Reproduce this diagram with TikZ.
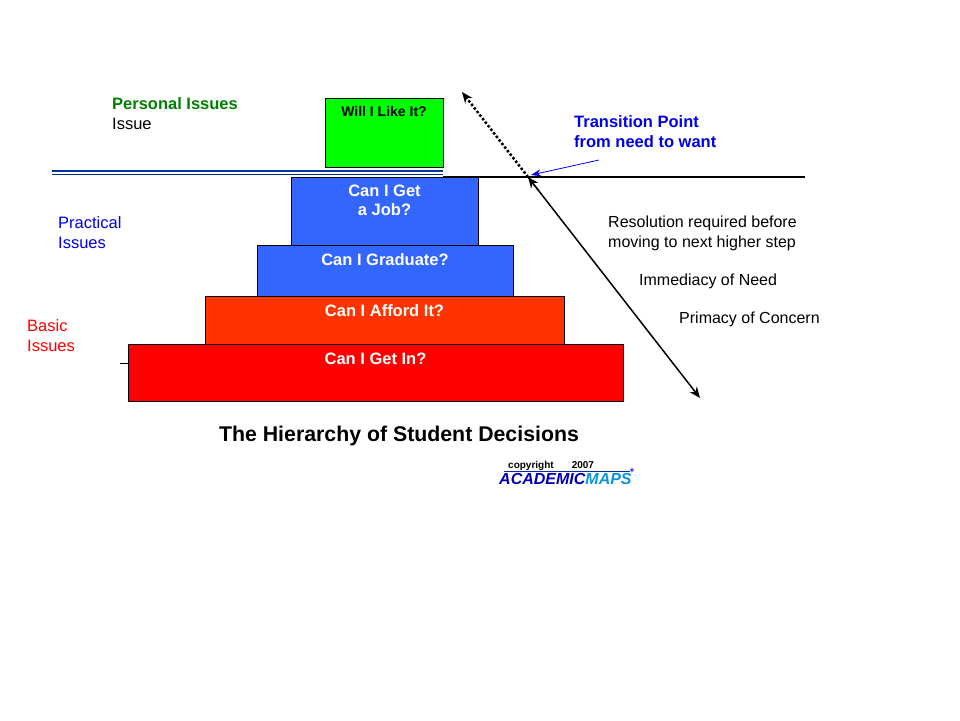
\documentclass[tikz,border=0pt]{standalone}
\usepackage{fontspec}
\setmainfont{Liberation Sans}
\usetikzlibrary{arrows.meta,calc}
\definecolor{pblue}{RGB}{51,102,255}
\definecolor{porange}{RGB}{255,51,0}
\definecolor{pgreen}{RGB}{0,128,0}
\definecolor{tblue}{RGB}{0,0,230}
\definecolor{lblue}{RGB}{0,51,153}
\begin{document}
\begin{tikzpicture}[x=1pt,y=-1pt,
  lbl/.style={font=\bfseries\fontsize{16.5}{19}\selectfont,text=white,align=center},
  side/.style={font=\fontsize{16.5}{20}\selectfont,align=left,anchor=north west,inner sep=0pt}]
\useasboundingbox (0,0) rectangle (960,720);
\fill[white] (0,0) rectangle (960,720);
% steps
\filldraw[fill=red] (128,344) rectangle (623,401);
\filldraw[fill=porange] (205,296) rectangle (564,344);
\filldraw[fill=pblue] (257,245) rectangle (513,296);
\filldraw[fill=pblue] (291,177) rectangle (478,245);
\filldraw[fill=green] (325,98) rectangle (443,167);
\node[lbl] (s1) at (375.5,359) {Can I Get In?};
\node[lbl] (s2) at (384.5,311) {Can I Afford It?};
\node[lbl] (s3) at (385,260) {Can I Graduate?};
\node[lbl,font=\bfseries\fontsize{16.5}{19}\selectfont] (s4) at (384.5,200) {Can I Get\\a Job?};
\node[font=\bfseries\fontsize{14}{16}\selectfont] (s5) at (384,111) {Will I Like It?};
\draw (120,363) -- (128,363);
% lines
\draw[lblue,line width=1.2pt] (52,171) -- (443,171);
\draw[lblue,line width=1.2pt] (52,174.5) -- (443,174.5);
\draw[line width=1.3pt] (443,177) -- (805,177);
% arrows
\coordinate (tp) at (528,177);
\coordinate (up) at (462,92);
\coordinate (dn) at (700,398);
\draw[line width=2.5pt,dotted,-{Stealth[length=11pt,width=9pt]}] (tp) -- (up);
\draw[line width=1.5pt,-{Stealth[length=11pt,width=9pt]}] (tp) -- (dn);
\draw[line width=1.5pt,-{Stealth[length=11pt,width=9pt]}] ($(tp)!0.06!(dn)$) -- (tp);
\coordinate (tl) at (599,160);
\draw[tblue,line width=0.8pt,-{Stealth[length=10pt,width=7pt]}] (tl) -- (531,175);
\node[side,font=\bfseries\fontsize{16.5}{20}\selectfont,text=tblue] (tpt) at (574,115) {Transition Point\\from need to want};
% side labels
\node[side] (pi) at (112,97) {\textcolor{pgreen}{\bfseries Personal Issues}\\Issue};
\node[side,text=tblue] (pr) at (58,216) {Practical\\Issues};
\node[side,text=red] (bi) at (27,319) {Basic\\Issues};
\node[side,font=\fontsize{16}{20}\selectfont] (r1) at (608,216) {Resolution required before\\moving to next higher step};
\node[side,font=\fontsize{16}{18}\selectfont] (r2) at (639,274) {Immediacy of Need};
\node[side,font=\fontsize{16}{18}\selectfont] (r3) at (679,312) {Primacy of Concern};
\node[font=\bfseries\fontsize{21.3}{24}\selectfont] (title) at (399,436) {The Hierarchy of Student Decisions};
% logo
\node[font=\bfseries\fontsize{10}{11}\selectfont,anchor=west,inner sep=0pt] (cp) at (508,466) {copyright\hspace{18pt}2007};
\draw[lblue] (504,471) -- (630,471);
\node[font=\bfseries\itshape\fontsize{16}{17}\selectfont,anchor=west,inner sep=0pt] (logo) at (499,479) {\textcolor{blue!70!black}{ACADEMIC}\textcolor{cyan!80!blue}{MAPS}};
\node[draw=blue,circle,inner sep=1pt,line width=0.6pt] (st) at (632,470) {};
\end{tikzpicture}
\end{document}
